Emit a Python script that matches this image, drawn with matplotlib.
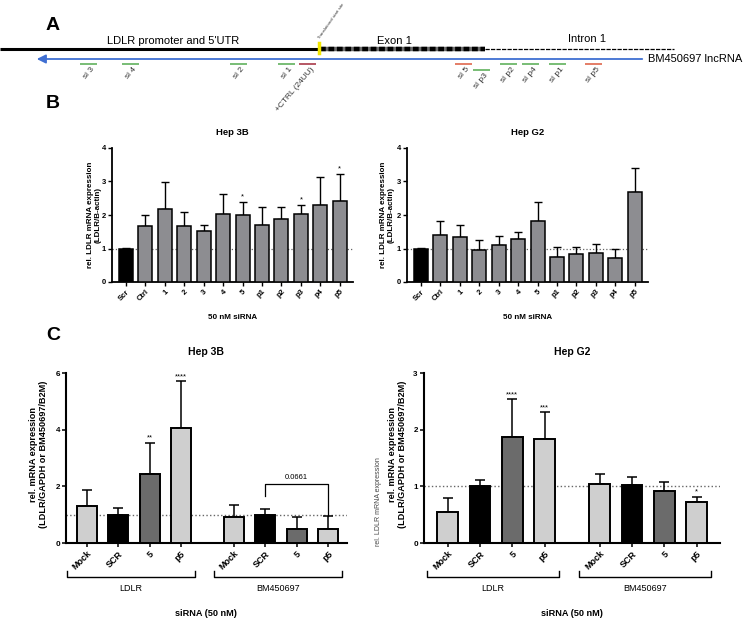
import matplotlib
matplotlib.use("Agg")
import matplotlib.pyplot as plt
import numpy as np

plt.rcParams['font.family'] = ['Liberation Sans', 'DejaVu Sans']

# ---- panel A: siRNA map ----
si_labels = ['si 3', 'si 4', 'si 2', 'si 1', '+CTRL (24UU)', 'si 5', 'si p3', 'si p2', 'si p4', 'si p1', 'si p5']
si_start = [80, 122, 230, 278, 299, 455, 473, 500, 522, 549, 585]
si_row = [0, 0, 0, 0, 0, 0, 1, 0, 0, 0, 0]
si_kind = ['g', 'g', 'g', 'g', 'ctrl', 'r', 'g', 'g', 'g', 'g', 'r']

# ---- panel B ----
b_labels = ['Scr', 'Ctrl', '1', '2', '3', '4', '5', 'p1', 'p2', 'p3', 'p4', 'p5']
hep3b_b_mean = [1.0, 1.66, 2.18, 1.66, 1.51, 2.04, 2.0, 1.69, 1.89, 2.03, 2.29, 2.43]
hep3b_b_sd = [0.02, 0.33, 0.80, 0.42, 0.20, 0.59, 0.38, 0.54, 0.35, 0.26, 0.83, 0.79]
hep3b_b_stars = ['', '', '', '', '', '', '*', '', '', '*', '', '*']
hepg2_b_mean = [1.0, 1.40, 1.35, 0.97, 1.09, 1.27, 1.82, 0.76, 0.83, 0.86, 0.71, 2.69]
hepg2_b_sd = [0.02, 0.42, 0.34, 0.28, 0.28, 0.22, 0.56, 0.27, 0.22, 0.27, 0.27, 0.70]

# ---- panel C ----
c_labels = ['Mock', 'SCR', '5', 'p5', 'Mock', 'SCR', '5', 'p5']
c_groups = ['LDLR', 'BM450697']
hep3b_c_mean = [1.29, 1.0, 2.44, 4.06, 0.92, 1.0, 0.51, 0.51]
hep3b_c_sd = [0.57, 0.24, 1.10, 1.65, 0.41, 0.21, 0.41, 0.45]
hep3b_c_stars = ['', '', '**', '****', '', '', '', '']
hepg2_c_mean = [0.54, 1.0, 1.87, 1.83, 1.04, 1.02, 0.92, 0.72]
hepg2_c_sd = [0.26, 0.11, 0.67, 0.48, 0.17, 0.14, 0.15, 0.10]
hepg2_c_stars = ['', '', '****', '***', '', '', '', '*']

W, H = 744, 628
fig = plt.figure(figsize=(W / 100, H / 100), dpi=100)


def px_axes(l, t, r, b):
    return fig.add_axes([l / W, 1 - b / H, (r - l) / W, (b - t) / H])


def ftext(x, y, s, **kw):
    fig.text(x / W, 1 - y / H, s, **kw)


# ================= A =================
axa = px_axes(0, 0, W, 100)
axa.set_xlim(0, W)
axa.set_ylim(100, 0)
axa.axis('off')
axa.plot([0, 318], [48.5, 48.5], color='black', lw=2.2, solid_capstyle='butt')
axa.plot([320, 485], [48.5, 48.5], color='#6d6d6d', lw=3.2, solid_capstyle='butt')
ex, = axa.plot([320, 485], [48.5, 48.5], color='black', lw=3.2)
ex.set_dashes((1.3, 0.6))
intr, = axa.plot([485, 674], [48.5, 48.5], color='black', lw=0.9)
intr.set_dashes((3.4, 1.0))
axa.plot([319, 319], [43, 53], color='#f2e600', lw=2.5)
axa.annotate('', xy=(34, 59), xytext=(645, 59),
             arrowprops=dict(arrowstyle='-|>', color='#3f6fd2', lw=1.3, mutation_scale=13))
axa.text(648, 59, 'BM450697 lncRNA', fontsize=8, va='center', ha='left')
axa.text(173, 41, "LDLR promoter and 5'UTR", fontsize=8, ha='center', va='center')
axa.text(394, 41, 'Exon 1', fontsize=8, ha='center', va='center')
axa.text(587, 39, 'Intron 1', fontsize=8, ha='center', va='center')
axa.text(321, 40, 'Translational start site', fontsize=3.2, rotation=55,
         ha='left', va='bottom', rotation_mode='anchor', color='#333333')
axa.text(53, 25, 'A', fontsize=14, fontweight='bold', ha='center', va='center')
kind_col = {'g': '#6db86a', 'r': '#e2735a', 'ctrl': '#b04a58'}
for lab, x0, row, kd in zip(si_labels, si_start, si_row, si_kind):
    y = 63.5 + row * 6
    axa.plot([x0, x0 + 17], [y, y], color=kind_col[kd], lw=1.3, solid_capstyle='butt')
    axa.text(x0 + 11, y + 2.5, lab, fontsize=6, rotation=50,
             ha='right', va='top', rotation_mode='anchor', color='#333333')


# ================= B =================
def panel_b(rect, mean, sd, title, lab_x, stars=None):
    ax = px_axes(*rect)
    x = np.arange(len(b_labels))
    cols = ['black'] + ['#8d8d91'] * (len(b_labels) - 1)
    ax.bar(x, mean, width=0.72, color=cols, edgecolor='black', linewidth=1.1, zorder=3)
    ax.errorbar(x, mean, yerr=[np.zeros(len(sd)), sd], fmt='none', ecolor='black',
                elinewidth=1.0, capsize=3, capthick=1.0, zorder=2)
    ax.axhline(1, color='#666666', ls=':', lw=0.9, zorder=1)
    if stars:
        for xi, m, s, st in zip(x, mean, sd, stars):
            if st:
                ax.text(xi, m + s + 0.05, st, ha='center', va='bottom', fontsize=5.5)
    ax.set_xlim(-0.72, 11.68)
    ax.set_ylim(0, 4)
    ax.set_yticks([0, 1, 2, 3, 4])
    ax.set_xticks(x)
    ax.set_xticklabels(b_labels, rotation=45, ha='right', rotation_mode='anchor')
    for sp in ['top', 'right']:
        ax.spines[sp].set_visible(False)
    for sp in ['left', 'bottom']:
        ax.spines[sp].set_linewidth(1.3)
    ax.tick_params(length=3, width=1.0, labelsize=5.5, pad=1.5)
    for t in ax.get_xticklabels() + ax.get_yticklabels():
        t.set_fontweight('bold')
    ax.set_title(title, fontsize=6.8, fontweight='bold', pad=9)
    ax.set_ylabel('rel. LDLR mRNA expression\n(LDLR/B-actin)', fontsize=5.8,
                  fontweight='bold')
    ax.yaxis.set_label_coords(lab_x, 0.5)
    ax.set_xlabel('50 nM siRNA', fontsize=5.8, fontweight='bold', labelpad=8)
    return ax


panel_b((112, 148, 353, 282), hep3b_b_mean, hep3b_b_sd, 'Hep 3B', -0.042, hep3b_b_stars)
panel_b((407, 148, 648, 282), hepg2_b_mean, hepg2_b_sd, 'Hep G2', -0.05)
ftext(53, 103, 'B', fontsize=14, fontweight='bold', ha='center', va='center')
ftext(53, 335, 'C', fontsize=14, fontweight='bold', ha='center', va='center')

# ================= C =================
c_pos = np.array([0, 1, 2, 3, 4.7, 5.7, 6.7, 7.7])
c_cols = ['#cfcfcf', 'black', '#6b6b6b', '#cfcfcf'] * 2


def panel_c(rect, mean, sd, stars, ymax, yticks, xlim, title, lab_x):
    ax = px_axes(*rect)
    ax.bar(c_pos, mean, width=0.64, color=c_cols, edgecolor='black', linewidth=1.4, zorder=3)
    ax.errorbar(c_pos, mean, yerr=[np.zeros(len(sd)), sd], fmt='none', ecolor='black',
                elinewidth=1.1, capsize=3.6, capthick=1.1, zorder=2)
    ax.axhline(1, color='#666666', ls=':', lw=1.0, zorder=1)
    for xi, m, s, st in zip(c_pos, mean, sd, stars):
        if st:
            ax.text(xi, m + s + ymax * 0.005, st, ha='center', va='bottom', fontsize=5.5)
    ax.set_xlim(*xlim)
    ax.set_ylim(0, ymax)
    ax.set_yticks(yticks)
    ax.set_xticks(c_pos)
    ax.set_xticklabels(c_labels, rotation=45, ha='right', rotation_mode='anchor')
    for sp in ['top', 'right']:
        ax.spines[sp].set_visible(False)
    for sp in ['left', 'bottom']:
        ax.spines[sp].set_linewidth(1.5)
    ax.tick_params(axis='y', length=3, width=1.1, labelsize=5.8, pad=1.5)
    ax.tick_params(axis='x', length=3, width=1.1, labelsize=6.5, pad=1.5)
    for t in ax.get_xticklabels() + ax.get_yticklabels():
        t.set_fontweight('bold')
    ax.set_title(title, fontsize=7.5, fontweight='bold', pad=13)
    ax.set_ylabel('rel. mRNA expression\n(LDLR/GAPDH or BM450697/B2M)', fontsize=6.6,
                  fontweight='bold')
    ax.yaxis.set_label_coords(lab_x, 0.52)
    tr = ax.get_xaxis_transform()
    for g, idx in zip(c_groups, [slice(0, 4), slice(4, 8)]):
        p = c_pos[idx]
        l, r = p[0] - 0.65, p[-1] + 0.45
        ax.plot([l, l, r, r], [-0.165, -0.2, -0.2, -0.165], color='black', lw=1.0,
                transform=tr, clip_on=False)
        ax.text((l + r) / 2, -0.27, g, transform=tr, ha='center', va='center', fontsize=6.5)
    return ax


ax3 = panel_c((66, 373, 347, 543), hep3b_c_mean, hep3b_c_sd, hep3b_c_stars, 6, [0, 2, 4, 6],
              (-0.67, 8.31), 'Hep 3B', -0.064)
# SCR vs p5 bracket (BM450697)
ax3.plot([c_pos[5], c_pos[5], c_pos[7], c_pos[7]], [1.65, 2.09, 2.09, 0.96], color='black', lw=0.9)
ax3.text((c_pos[5] + c_pos[7]) / 2, 2.2, '0.0661', ha='center', va='bottom', fontsize=5.5)

panel_c((424, 373, 720, 543), hepg2_c_mean, hepg2_c_sd, hepg2_c_stars, 3, [0, 1, 2, 3],
        (-0.73, 8.42), 'Hep G2', -0.057)
ftext(378, 502, 'rel. LDLR mRNA expression', fontsize=5, rotation=90, ha='center',
      va='center', color='#444444')
ftext(206, 613, 'siRNA (50 nM)', fontsize=6.6, fontweight='bold', ha='center', va='center')
ftext(572, 613, 'siRNA (50 nM)', fontsize=6.6, fontweight='bold', ha='center', va='center')

fig.savefig('out.png', dpi=100)
